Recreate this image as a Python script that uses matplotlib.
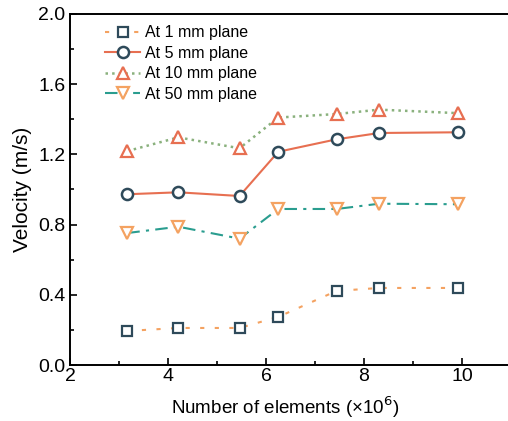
import numpy as np
import matplotlib
matplotlib.use("Agg")
import matplotlib.pyplot as plt
from matplotlib.ticker import MultipleLocator

plt.rcParams['font.family'] = ['Liberation Sans', 'DejaVu Sans']

# mesh sizes (x10^6 elements)
elements = [3.17, 4.21, 5.46, 6.25, 7.44, 8.31, 9.92]

# velocities at each plane (m/s)
v_1mm = [0.194, 0.211, 0.211, 0.274, 0.422, 0.439, 0.439]
v_5mm = [0.973, 0.984, 0.963, 1.215, 1.286, 1.322, 1.326]
v_10mm = [1.219, 1.297, 1.235, 1.41, 1.43, 1.455, 1.435]
v_50mm = [0.752, 0.788, 0.72, 0.889, 0.889, 0.919, 0.916]

fig = plt.figure(figsize=(5.08, 4.21), dpi=100)
ax = fig.add_axes([70/508, 56/421, 460/508, 351/421])

ax.plot(elements, v_1mm, linestyle=(0, (2, 5)), color='#F4A261', lw=1.5,
        marker='s', ms=7, mfc='white', mec='#2E4A5A', mew=1.6,
        label='At 1 mm plane')
ax.plot(elements, v_5mm, linestyle='-', color='#E76F51', lw=1.5,
        marker='o', ms=8, mfc='white', mec='#2E4A5A', mew=1.8,
        label='At 5 mm plane')
ax.plot(elements, v_10mm, linestyle=':', color='#8AB17D', lw=1.8,
        marker='^', ms=9, mfc='white', mec='#E76F51', mew=1.6,
        label='At 10 mm plane')
ax.plot(elements, v_50mm, linestyle=(0, (6, 3, 1.5, 3)), color='#2A9D8F', lw=1.5,
        marker='v', ms=9, mfc='white', mec='#F4A261', mew=1.6,
        label='At 50 mm plane')

ax.set_xlim(2, 2 + 460/49)
ax.set_ylim(0, 2.0)
ax.xaxis.set_major_locator(MultipleLocator(2))
ax.xaxis.set_minor_locator(MultipleLocator(1))
ax.yaxis.set_major_locator(MultipleLocator(0.4))
ax.yaxis.set_minor_locator(MultipleLocator(0.2))
ax.yaxis.set_major_formatter(matplotlib.ticker.FormatStrFormatter('%.1f'))
ax.tick_params(which='both', direction='in', labelsize=14, width=1.2)
ax.tick_params(which='major', length=5)
ax.tick_params(which='minor', length=3)
ax.tick_params(axis='x', pad=2)
for s in ax.spines.values():
    s.set_linewidth(1.4)

ax.set_xlabel('Number of elements (×10$^{6}$)', fontsize=13.5)
ax.xaxis.set_label_coords(215/460, -0.085)
ax.set_ylabel('Velocity (m/s)', fontsize=15, labelpad=4)

ax.legend(loc='upper left', frameon=False, fontsize=11.5, handlelength=2.2,
          handletextpad=0.3, labelspacing=0.35, borderaxespad=0.3,
          bbox_to_anchor=(0.052, 1.0))

fig.savefig('out.png', dpi=100)
